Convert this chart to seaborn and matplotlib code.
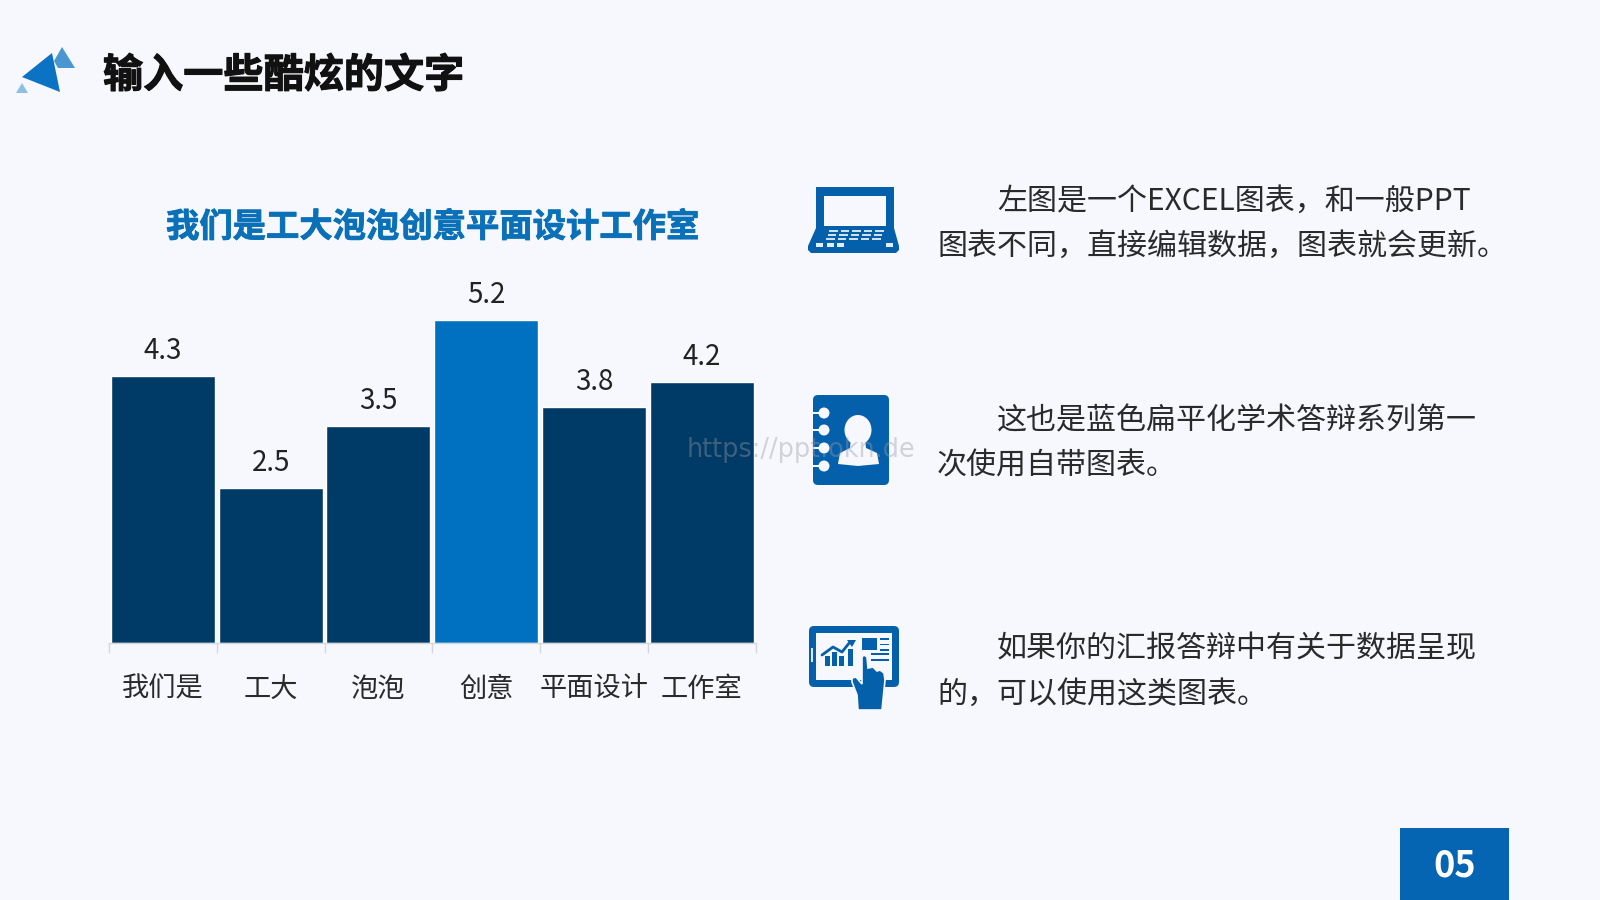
import matplotlib
matplotlib.use('Agg')
import matplotlib.pyplot as plt
import matplotlib.patheffects as pe
from matplotlib.patches import Polygon, Rectangle, FancyBboxPatch, Ellipse, Circle
import seaborn as sns

categories = ['我们是', '工大', '泡泡', '创意', '平面设计', '工作室']
values = [4.3, 2.5, 3.5, 5.2, 3.8, 4.2]
bar_colors = ['#003A66', '#003A66', '#003A66', '#0070C0', '#003A66', '#003A66']

title = '输入一些酷炫的文字'
chart_title = '我们是工大泡泡创意平面设计工作室'
page_no = '05'
watermark = 'https://ppt.okn.de'
body_lines = [
    ('左图是一个EXCEL图表，和一般PPT', '图表不同，直接编辑数据，图表就会更新。'),
    ('这也是蓝色扁平化学术答辩系列第一', '次使用自带图表。'),
    ('如果你的汇报答辩中有关于数据呈现', '的，可以使用这类图表。'),
]

BG = '#F6F8FD'
ICON = '#0560AC'
FONT = ['Noto Sans CJK SC', 'DejaVu Sans']

sns.set_theme(style='white')
plt.rcParams['font.family'] = FONT
plt.rcParams['axes.unicode_minus'] = False

fig = plt.figure(figsize=(16, 9), dpi=100, facecolor=BG)

# chart axes, placed in pixels (px per value = 62.1)
left, right, top, base = 109, 755.5, 250, 643
ax = fig.add_axes([left / 1600, 1 - base / 900, (right - left) / 1600, (base - top) / 900])
ax.set_facecolor('none')
sns.barplot(x=categories, y=values, hue=categories, palette=bar_colors, width=0.965,
            saturation=1, legend=False, ax=ax)
ax.set_xlim(-0.5, 5.5)
ax.set_ylim(0, (base - top) / 62.1)
for c in ax.containers:
    ax.bar_label(c, fmt='%.1f', padding=7, fontsize=20, color='#222222')
sns.despine(ax=ax, left=True)
ax.spines['bottom'].set_color('#D4D8DE')
ax.spines['bottom'].set_linewidth(1)
ax.set_yticks([])
ax.set_xlabel('')
ax.set_ylabel('')
ax.tick_params(axis='x', which='major', length=0, pad=23.5, labelsize=19.6, labelcolor='#2A2A2A')
ax.set_xticks([i - 0.5 for i in range(7)], minor=True)
ax.tick_params(axis='x', which='minor', bottom=True, length=7, width=1, color='#D4D8DE')

# overlay in pixel coordinates for slide furniture
ov = fig.add_axes([0, 0, 1, 1])
ov.set_xlim(0, 1600)
ov.set_ylim(900, 0)
ov.axis('off')
ov.patch.set_alpha(0)


def poly(points, color, z=3, edge='none', lw=0):
    ov.add_patch(Polygon(points, closed=True, facecolor=color, edgecolor=edge, linewidth=lw, zorder=z))


def rect(x0, y0, x1, y1, color, z=3):
    ov.add_patch(Rectangle((x0, y0), x1 - x0, y1 - y0, facecolor=color, edgecolor='none', zorder=z))


def rrect(x0, y0, x1, y1, r, color, z=3):
    ov.add_patch(FancyBboxPatch((x0 + r, y0 + r), x1 - x0 - 2 * r, y1 - y0 - 2 * r,
                                boxstyle=f'round,pad={r},rounding_size={r}',
                                facecolor=color, edgecolor='none', zorder=z))


# logo
poly([(54, 61), (62, 47), (75, 68), (58, 68)], '#4A96D0')
poly([(22, 77), (52, 53), (60, 92)], '#0B72C4', 4)
poly([(22, 83), (28, 93), (16, 93)], '#8FBFE5')

ov.text(103, 76, title, fontsize=28.9, fontweight='bold', color='#111111', va='center', ha='left',
        path_effects=[pe.withStroke(linewidth=0.8, foreground='#111111')])
ov.text(433, 227.5, chart_title, fontsize=24, fontweight='bold', color='#0A70B8', va='center', ha='center',
        path_effects=[pe.withStroke(linewidth=0.6, foreground='#0A70B8')])

# laptop icon
rect(816, 187, 894, 230, ICON)
rect(824, 196, 886, 226, BG, 4)
poly([(816, 228), (894, 228), (899, 246), (899, 250), (896, 253), (811, 253), (808, 250), (808, 246)], ICON)
for row, y in enumerate([230, 234, 238]):
    for k in range(5):
        x = 829 + k * 11.5 - row * 1.5
        rect(x, y, x + 8.5, y + 2, '#CFE2F3', 4)
for x in [816, 827, 837, 886]:
    rect(x, 243, x + 7, 247, '#E4EEF8', 4)

# contact book icon
rrect(813, 395, 889, 485, 5, ICON)
for y in [413, 430, 448, 466]:
    ov.add_patch(Circle((824, y), 5.5, facecolor=BG, edgecolor='none', zorder=4))
    rect(812, y - 1.2, 824, y + 1.2, BG, 4)
ov.add_patch(Ellipse((858, 430), 27, 30, facecolor=BG, edgecolor='none', zorder=4))
poly([(851, 438), (865, 438), (866, 448), (877, 453), (879, 464), (858, 466), (838, 464), (840, 453), (850, 448)], BG, 4)

# tablet icon
rrect(809, 626, 899, 687, 5, ICON)
rect(816, 633, 892, 680, BG, 4)
rect(811, 648, 813, 662, '#DCE8F4', 5)
for x, y in zip([825, 832, 839, 848], [656, 652, 656, 649]):
    rect(x, y, x + 5, 666, ICON, 5)
ov.plot([822, 833, 842, 850], [655, 647, 652, 642], color=ICON, lw=2.0, zorder=5)
poly([(847, 640), (856, 640), (852, 647)], ICON, 5)
rect(862, 638, 877, 650, ICON, 5)
for y0 in [638, 643.5, 649]:
    rect(880, y0, 889, y0 + 1.6, ICON, 5)
rect(871, 653, 889, 655, ICON, 5)
rect(871, 659, 889, 661, ICON, 5)
poly([(862, 657), (864, 655), (867, 657), (868, 668), (873, 667), (877, 671), (880, 670), (884, 673),
      (885, 680), (882, 710), (858, 710), (857, 695), (852, 682), (852, 678), (856, 677), (862, 684)],
     ICON, 6, edge=BG, lw=1.2)

# right column text
text_y = [(201, 246), (420.5, 466), (649, 694)]
for (first, second), (y0, y1) in zip(body_lines, text_y):
    ov.text(997, y0, first, fontsize=21.6, color='#2A2A2A', va='center', ha='left')
    ov.text(937, y1, second, fontsize=21.6, color='#2A2A2A', va='center', ha='left')

# watermark
ov.text(687, 450, watermark, fontsize=18.4, family=['DejaVu Sans'], color='#9A9AA0', alpha=0.4,
        va='center', ha='left', zorder=8)

# page number
rect(1400, 828, 1509, 900, '#0565B2')
ov.text(1454.5, 866, page_no, fontsize=26, fontweight='bold', color='white', va='center', ha='center', zorder=5)

fig.savefig('out.png', dpi=100, facecolor=BG)
